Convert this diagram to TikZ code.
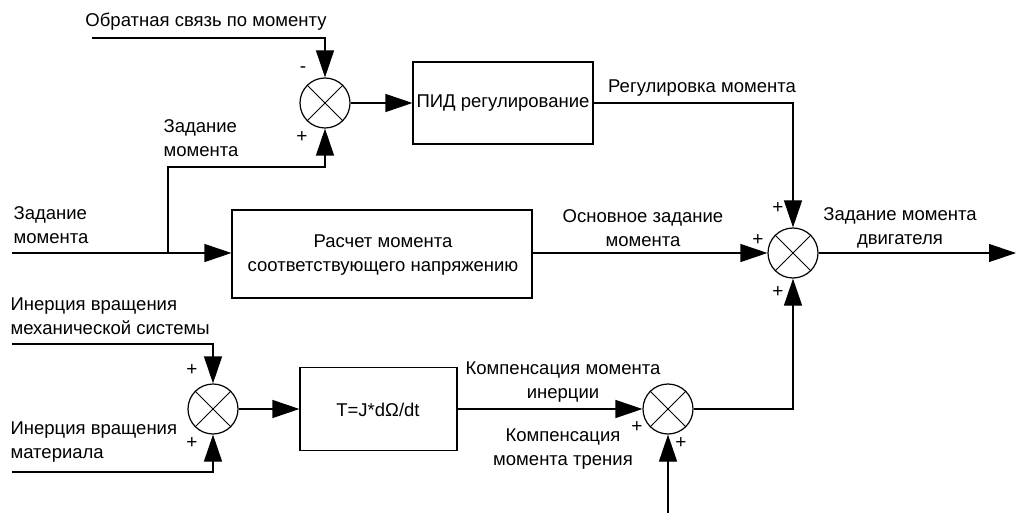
\documentclass[tikz,border=0pt]{standalone}
\usepackage{fontspec}
\setmainfont{Liberation Sans}
\usetikzlibrary{arrows.meta}
\begin{document}
\begin{tikzpicture}[x=1pt,y=-1pt,
  line width=1.2pt,
  lbl/.style={font=\fontsize{18.5}{23.5}\selectfont, align=center, inner sep=0pt},
  lbll/.style={font=\fontsize{18.5}{23.5}\selectfont, align=left, inner sep=0pt, anchor=west},
  sgn/.style={font=\fontsize{19}{19}\selectfont, inner sep=0pt},
  blk/.style={draw, line width=1.2pt, inner sep=0pt},
  sumj/.style={draw, circle, minimum size=50pt, inner sep=0pt, line width=1.2pt},
  arr/.style={-{Triangle[length=27pt,width=18pt]}},
]
\useasboundingbox (0,0) rectangle (1017,513);
% summing junctions
\node[sumj] (s1) at (325,103) {};
\node[sumj] (s2) at (213,409) {};
\node[sumj] (s3) at (793,253) {};
\node[sumj] (s4) at (668,409) {};
\foreach \n in {s1,s2,s3,s4}
  \draw[line width=1pt] (\n.north west)--(\n.south east) (\n.north east)--(\n.south west);
% blocks
\node[blk, minimum width=180pt, minimum height=82pt] (pid) at (503,103) {};
\node[lbl] (pidt) at (pid.center) {ПИД регулирование};
\node[blk, minimum width=300pt, minimum height=88pt] (calc) at (382,254) {};
\node[lbl] (calct) at (383,255) {Расчет момента\\соответствующего напряжению};
\node[blk, minimum width=157pt, minimum height=83pt] (tj) at (378.5,409) {};
\node[lbl] (tjt) at (378,410) {T=J*dΩ/dt};
% coordinates
\coordinate (fbin) at (92,38);
\coordinate (fbc) at (325,38);
\coordinate (zin) at (12,253);
\coordinate (zbr) at (168,253);
\coordinate (zc) at (168,167);
\coordinate (zc2) at (325,167);
\coordinate (rc) at (793,103);
\coordinate (out) at (1016,253);
\coordinate (m1in) at (12,344);
\coordinate (m1c) at (213,344);
\coordinate (m2in) at (12,472);
\coordinate (m2c) at (213,472);
\coordinate (bc) at (793,409);
\coordinate (frin) at (668,513);
% connectors
\draw[arr] (fbin) -- (fbc) -- (s1.north);
\draw (zin) -- (zbr);
\draw[arr] (zbr) -- (zc) -- (zc2) -- (s1.south);
\draw[arr] (zin) -- (calc.west |- zin);
\draw[arr] (s1.east) -- (pid.west);
\draw[arr] (pid.east) -- (rc) -- (s3.north);
\draw[arr] (calc.east |- s3.west) -- (s3.west);
\draw[arr] (s3.east) -- (out);
\draw[arr] (m1in) -- (m1c) -- (s2.north);
\draw[arr] (m2in) -- (m2c) -- (s2.south);
\draw[arr] (s2.east) -- (tj.west);
\draw[arr] (tj.east) -- (s4.west);
\draw[arr] (s4.east) -- (bc) -- (s3.south);
\draw[arr] (frin) -- (s4.south);
% labels
\node[lbl] (l1) at (206,22) {Обратная связь по моменту};
\node[lbll] (l2) at (163,138) {Задание\\момента};
\node[lbll] (l3) at (13,225) {Задание\\момента};
\node[lbl] (l4) at (702,88) {Регулировка момента};
\node[lbl] (l5) at (643,228) {Основное задание\\момента};
\node[lbl] (l6) at (900,228) {Задание момента\\двигателя};
\node[lbll] (l7) at (10,316) {Инерция вращения\\механической системы};
\node[lbll] (l8) at (10,442) {Инерция вращения\\материала};
\node[lbl] (l9) at (563,382) {Компенсация момента\\инерции};
\node[lbl] (l10) at (563,449) {Компенсация\\момента трения};
% signs
\node[sgn] (p1) at (303,70) {-};
\node[sgn] (p2) at (302,137) {+};
\node[sgn] (p3) at (778,208) {+};
\node[sgn] (p4) at (758,240) {+};
\node[sgn] (p5) at (778,292) {+};
\node[sgn] (p6) at (192,370) {+};
\node[sgn] (p7) at (192,443) {+};
\node[sgn] (p8) at (637,427) {+};
\node[sgn] (p9) at (681,443) {+};
\end{tikzpicture}
\end{document}
